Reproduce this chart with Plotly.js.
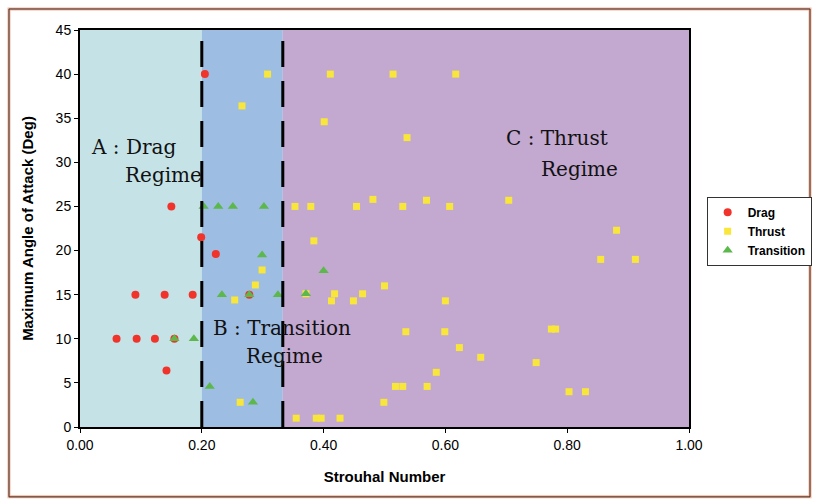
<!DOCTYPE html>
<html>
<head>
<meta charset="utf-8">
<script src="https://cdn.plot.ly/plotly-3.0.1.min.js"></script>
<style>html,body{margin:0;padding:0;background:#fff;}</style>
</head>
<body>
<div id="chart" style="width:814px;height:503px;"></div>
<script>
// Drag series
const dragX = [0.205, 0.150, 0.199, 0.223, 0.091, 0.139, 0.185, 0.278, 0.060, 0.093, 0.123, 0.155, 0.142];
const dragY = [40, 25, 21.5, 19.6, 15, 15, 15, 15, 10, 10, 10, 10, 6.4];

// Thrust series
const thrustX = [0.308, 0.266, 0.411, 0.514, 0.617, 0.401, 0.537,
  0.353, 0.379, 0.454, 0.481, 0.530, 0.569, 0.607, 0.704,
  0.881, 0.855, 0.912, 0.384, 0.299, 0.288, 0.254,
  0.371, 0.418, 0.413, 0.464, 0.449, 0.500, 0.600,
  0.535, 0.599, 0.623, 0.658, 0.585, 0.518, 0.530, 0.570, 0.499, 0.263,
  0.774, 0.781, 0.749, 0.803, 0.830,
  0.355, 0.388, 0.396, 0.427];
const thrustY = [40, 36.4, 40, 40, 40, 34.6, 32.8,
  25, 25, 25, 25.8, 25, 25.7, 25, 25.7,
  22.3, 19, 19, 21.1, 17.8, 16.1, 14.4,
  15.1, 15.1, 14.3, 15.1, 14.3, 16.0, 14.3,
  10.8, 10.8, 9.0, 7.9, 6.2, 4.6, 4.6, 4.6, 2.8, 2.8,
  11.1, 11.1, 7.3, 4.0, 4.0,
  1.0, 1.0, 1.0, 1.0];

// Transition series
const transX = [0.203, 0.227, 0.251, 0.302, 0.299, 0.400, 0.371, 0.233, 0.278, 0.325, 0.155, 0.187, 0.213, 0.284];
const transY = [25, 25, 25, 25, 19.5, 17.7, 15.1, 15, 15, 15, 10, 10, 4.6, 2.8];

// Regime boundaries and labels
const regimeBounds = [0, 0.2, 0.333, 1];
const regimeColors = ['#c5e3e7', '#9ebde2', '#c3a8d0'];
const xTickVals = [0, 0.2, 0.4, 0.6, 0.8, 1.0];
const xTickText = ['0.00', '0.20', '0.40', '0.60', '0.80', '1.00'];
const yTickVals = [0, 5, 10, 15, 20, 25, 30, 35, 40, 45];

const traces = [
  {x: dragX, y: dragY, name: 'Drag', type: 'scatter', mode: 'markers',
   marker: {symbol: 'circle', size: 8, color: '#f0342c'}},
  {x: thrustX, y: thrustY, name: 'Thrust', type: 'scatter', mode: 'markers',
   marker: {symbol: 'square', size: 7, color: '#f8e63a'}},
  {x: transX, y: transY, name: 'Transition', type: 'scatter', mode: 'markers',
   marker: {symbol: 'triangle-up', size: 9, color: '#5db84c'}}
];

const shapes = [];
for (let i = 0; i < 3; i++) {
  shapes.push({type: 'rect', xref: 'x', yref: 'y', x0: regimeBounds[i], x1: regimeBounds[i+1],
    y0: 0, y1: 45, fillcolor: regimeColors[i], line: {width: 0}, layer: 'below'});
}
[regimeBounds[1], regimeBounds[2]].forEach(b => {
  shapes.push({type: 'line', xref: 'x', yref: 'y', x0: b, x1: b, y0: 0, y1: 45,
    line: {color: '#000', width: 3, dash: '26px,14px'}, layer: 'above'});
});
// outer frame
shapes.push({type: 'rect', xref: 'paper', yref: 'paper', x0: -0.1166, x1: 1.1987, y0: -0.176, y1: 1.0529,
  line: {color: '#f3b49c', width: 3}, fillcolor: 'rgba(0,0,0,0)', layer: 'below'});
shapes.push({type: 'rect', xref: 'paper', yref: 'paper', x0: -0.1166, x1: 1.1987, y0: -0.176, y1: 1.0529,
  line: {color: '#3b2a25', width: 1}, fillcolor: 'rgba(0,0,0,0)', layer: 'below'});

const serif = {family: 'DejaVu Serif, serif', size: 20, color: '#111'};
const annotations = [
  {text: 'A : Drag', x: 0.014, y: 31.7},
  {text: 'Regime', x: 0.070, y: 28.6},
  {text: 'B : Transition', x: 0.215, y: 11.2},
  {text: 'Regime', x: 0.270, y: 8.0},
  {text: 'C : Thrust', x: 0.697, y: 32.8},
  {text: 'Regime', x: 0.754, y: 29.3}
].map(a => Object.assign({xref: 'x', yref: 'y', xanchor: 'left', yanchor: 'middle',
  showarrow: false, font: serif}, a));

const axisFont = {family: 'Liberation Sans, Arial, sans-serif', size: 14, color: '#000'};
const titleFont = {family: 'Liberation Sans, Arial, sans-serif', size: 15, color: '#000', weight: 'bold'};

const layout = {
  width: 814, height: 503,
  margin: {l: 80, r: 125, t: 30, b: 76, pad: 0, autoexpand: false},
  paper_bgcolor: '#fff', plot_bgcolor: '#fff',
  showlegend: true,
  legend: {x: 1.029, xanchor: 'left', y: 0.58, yanchor: 'top',
    bgcolor: '#fff', bordercolor: '#333', borderwidth: 1, itemwidth: 30,
    font: {family: 'Liberation Sans, Arial, sans-serif', size: 12, color: '#000', weight: 'bold'},
    tracegroupgap: 0},
  xaxis: {range: [0, 1], tickvals: xTickVals, ticktext: xTickText, ticks: 'outside', ticklen: 4,
    tickcolor: '#000', showgrid: false, zeroline: false, showline: true, mirror: true,
    linecolor: '#000', linewidth: 2, tickfont: axisFont,
    title: {text: 'Strouhal Number', font: titleFont, standoff: 20}},
  yaxis: {range: [0, 45], tickvals: yTickVals, ticks: 'outside', ticklen: 4,
    tickcolor: '#000', showgrid: false, zeroline: false, showline: true, mirror: true,
    linecolor: '#000', linewidth: 2, tickfont: axisFont,
    title: {text: 'Maximum Angle of Attack (Deg)', font: titleFont, standoff: 18}},
  shapes: shapes,
  annotations: annotations
};

Plotly.newPlot('chart', traces, layout, {displayModeBar: false, staticPlot: true});
</script>
</body>
</html>
